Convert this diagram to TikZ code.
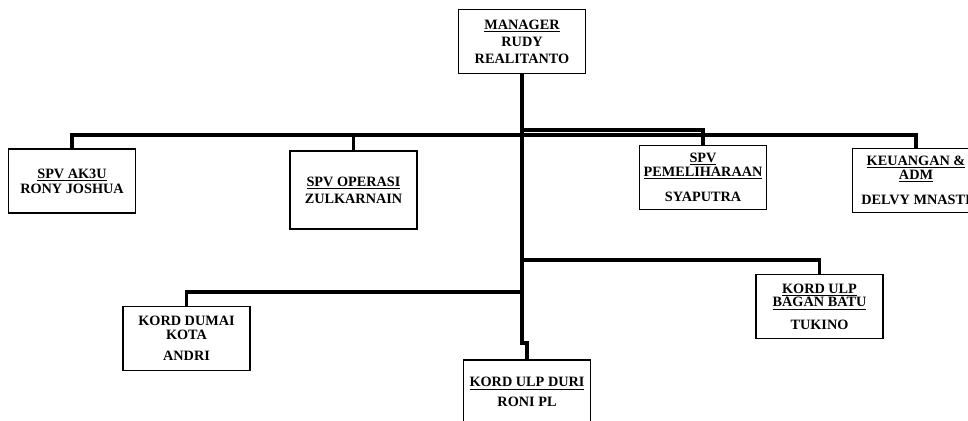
\documentclass[tikz,border=0pt]{standalone}
\usepackage{fontspec}
\setmainfont{Liberation Serif}
\begin{document}
\begin{tikzpicture}[x=0.75pt, y=-0.75pt, line join=miter, font=\bfseries\fontsize{10.7}{10.3}\selectfont]
				\tikzset{box/.style={draw, line width=1.1pt, align=center, inner sep=1pt, minimum width=95pt, minimum height=48pt},
				link/.style={line width=2.6pt}}
				\useasboundingbox (0,0) rectangle (968,421);
				\clip (0,0) rectangle (968,421);
				\node[box] (mgr) at (522,41.5) {\underline{MANAGER}\\[2.5pt] RUDY\\[2.5pt] REALITANTO};
				\node[box] (aksu) at (72,181) {\underline{SPV AK3U}\\[1pt] RONY JOSHUA};
				\node[box, minimum height=58.5pt] (ops) at (353.5,190) {\underline{SPV OPERASI}\\[2.5pt] ZULKARNAIN};
				\node[box] (pml) at (703,177.5) {\underline{SPV}\\ \underline{PEMELIHARAAN}\\[9pt] SYAPUTRA};
				\node[box] (keu) at (916,180.5) {\underline{KEUANGAN \&}\\ \underline{ADM}\\[8.5pt] DELVY MNASTI};
				\node[box] (dumai) at (186.5,338.5) {KORD DUMAI\\ KOTA\\[6pt] ANDRI};
				\node[box] (duri) at (527,392) {\underline{KORD ULP DURI}\\[4.5pt] RONI PL};
				\node[box] (bagan) at (819.5,306.5) {\underline{KORD ULP}\\ \underline{BAGAN BATU}\\[6.5pt] TUKINO};
				% junctions on the trunk
				\coordinate (bus) at (522,135);
				\coordinate (bus2) at (522,130);
				\coordinate (jog) at (522,343);
				\coordinate (kd) at (522,292);
				\coordinate (kb) at (522,260);
				\draw[link] (aksu.north) |- (bus) -| (keu.north);
				\draw[link] (ops.north) |- (bus);
				\draw[link] (pml.north) |- (bus2);
				\draw[link] (mgr.south) -- (jog) -| (duri.north);
				\draw[link] (dumai.north) |- (kd);
				\draw[link] (bagan.north) |- (kb);
			\end{tikzpicture}
\end{document}
